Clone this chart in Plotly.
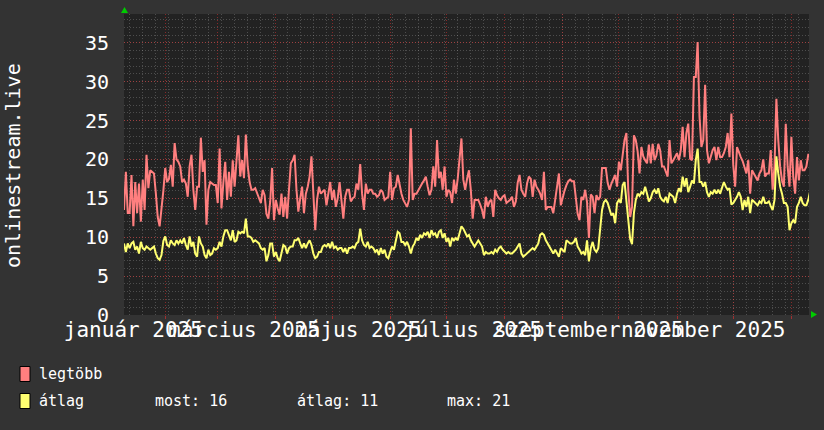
import plotly.graph_objects as go
from datetime import datetime, timedelta

# ---------------- data ----------------
START_DAY = "2025-01-10"          # first daily sample
END_VIEW = "2026-01-10 09:36"      # right edge of the time axis

legtobb = [
    13.5, 18.4, 13.1, 13.1, 18.0, 11.4, 17.1, 13.1, 16.9, 12.0,
    17.4, 13.5, 20.6, 16.3, 18.6, 18.4, 18.2, 15.6, 12.6, 11.4,
    13.5, 16.0, 18.9, 17.1, 17.5, 19.3, 16.5, 22.1, 20.0, 19.7,
    19.1, 17.1, 17.4, 16.9, 15.2, 19.1, 20.6, 16.1, 13.5, 16.5,
    16.5, 22.8, 18.4, 19.9, 11.6, 16.1, 17.1, 16.9, 16.7, 16.7,
    14.4, 21.4, 13.7, 17.0, 19.7, 14.8, 18.4, 15.2, 19.9, 16.5,
    19.4, 23.1, 17.8, 19.9, 17.6, 23.2, 19.1, 17.1, 16.1, 16.1,
    16.3, 15.6, 15.0, 14.4, 16.1, 15.4, 13.0, 12.4, 14.6, 18.9,
    12.2, 14.8, 13.7, 12.9, 15.6, 12.6, 15.2, 12.4, 16.1, 19.5,
    19.9, 20.6, 16.1, 13.3, 15.0, 16.5, 13.1, 15.6, 16.5, 17.8,
    20.4, 15.6, 10.9, 14.8, 16.5, 15.6, 15.8, 16.1, 14.1, 15.4,
    17.1, 14.8, 16.1, 13.9, 15.0, 17.1, 14.8, 12.4, 15.2, 16.1,
    16.1, 14.6, 15.0, 15.2, 16.9, 16.1, 19.4, 15.6, 13.5, 16.9,
    15.6, 16.1, 16.1, 15.6, 15.6, 15.2, 15.4, 16.1, 15.8, 14.8,
    15.0, 15.2, 18.4, 14.8, 16.3, 16.5, 18.0, 16.5, 15.6, 14.8,
    14.4, 13.9, 14.8, 24.0, 14.8, 15.6, 15.6, 16.1, 16.5, 16.9,
    17.3, 17.8, 16.5, 15.4, 16.1, 19.1, 16.5, 22.5, 17.6, 18.4,
    16.1, 19.1, 15.2, 16.1, 15.8, 14.4, 17.4, 15.6, 17.5, 19.9,
    22.7, 17.4, 16.1, 17.5, 18.6, 16.1, 12.4, 14.8, 14.8, 14.8,
    14.2, 13.5, 12.4, 15.2, 13.9, 14.6, 14.8, 12.6, 16.1, 15.4,
    15.0, 14.8, 15.2, 15.4, 14.4, 14.6, 14.8, 15.2, 13.9, 14.6,
    17.0, 18.0, 16.1, 15.6, 15.2, 16.9, 17.8, 17.5, 15.2, 17.4,
    16.5, 16.1, 15.6, 14.8, 18.4, 13.5, 13.9, 13.9, 13.9, 13.1,
    14.8, 16.9, 18.2, 14.1, 15.2, 16.0, 16.7, 17.2, 17.4, 17.2,
    17.2, 15.2, 13.0, 12.2, 15.2, 14.8, 16.1, 14.5, 9.9, 15.5,
    15.2, 13.1, 15.4, 14.8, 15.2, 18.9, 18.9, 18.9, 17.0, 16.1,
    16.9, 17.5, 18.0, 16.5, 19.7, 18.6, 21.0, 22.5, 23.4, 16.0,
    12.6, 13.9, 23.1, 22.5, 21.0, 18.2, 21.6, 20.4, 19.9, 19.5,
    21.9, 19.5, 22.0, 19.9, 20.5, 22.0, 21.2, 19.1, 19.1, 18.5,
    17.8, 22.5, 19.5, 19.9, 20.3, 20.8, 19.9, 21.2, 24.2, 20.3,
    23.4, 24.6, 20.1, 19.9, 30.6, 30.6, 35.1, 25.5, 21.6, 22.5,
    29.6, 21.2, 19.5, 20.3, 21.2, 21.6, 19.9, 21.6, 20.3, 20.3,
    20.8, 21.6, 23.4, 20.3, 25.9, 19.3, 16.5, 21.6, 20.8, 20.3,
    19.8, 19.1, 18.2, 19.9, 15.6, 18.6, 18.2, 17.8, 17.3, 18.2,
    18.6, 20.0, 17.8, 18.2, 18.2, 21.2, 16.1, 19.1, 27.8, 22.5,
    19.1, 17.3, 16.5, 24.6, 19.1, 16.5, 22.9, 17.8, 15.6, 20.3,
    17.3, 19.9, 18.6, 18.6, 19.1, 20.6, 20.6,
]

atlag = [
    9.2, 8.1, 9.2, 8.6, 9.2, 9.4, 8.4, 8.8, 7.9, 9.4,
    8.6, 8.4, 8.8, 8.6, 8.4, 8.6, 8.8, 7.9, 7.3, 7.1,
    7.7, 9.5, 10.1, 9.0, 8.8, 9.6, 9.2, 9.0, 9.6, 9.2,
    9.6, 9.2, 9.9, 9.0, 8.4, 10.1, 8.8, 9.4, 7.9, 7.5,
    10.1, 9.2, 8.8, 7.7, 7.3, 8.4, 7.7, 7.9, 8.6, 8.4,
    8.6, 9.4, 8.8, 10.1, 10.9, 10.9, 10.1, 9.6, 10.9, 9.4,
    9.6, 10.7, 10.5, 10.7, 10.5, 12.4, 10.1, 10.1, 9.9, 9.4,
    9.6, 9.4, 9.2, 8.6, 8.4, 8.6, 6.9, 7.7, 9.2, 9.2,
    7.5, 8.1, 7.3, 6.9, 7.9, 9.0, 8.8, 7.9, 8.6, 8.8,
    8.8, 9.6, 9.6, 9.9, 9.2, 8.6, 9.2, 8.6, 9.2, 9.6,
    9.0, 7.9, 7.3, 7.5, 8.1, 8.1, 8.8, 9.0, 8.8, 9.2,
    8.6, 9.4, 8.6, 8.8, 8.4, 8.6, 8.6, 8.1, 8.6, 7.9,
    8.6, 8.6, 8.8, 8.6, 9.2, 9.4, 11.1, 9.6, 9.0, 8.8,
    9.4, 8.6, 8.8, 8.6, 8.1, 8.4, 7.7, 8.6, 7.9, 8.4,
    7.5, 7.3, 8.1, 8.8, 8.4, 9.4, 10.7, 10.5, 9.4, 9.4,
    9.0, 9.4, 8.8, 7.9, 8.8, 9.2, 9.9, 9.6, 10.3, 9.9,
    10.5, 10.3, 10.7, 9.9, 10.9, 10.3, 10.5, 9.9, 10.7, 10.9,
    9.9, 10.5, 9.4, 9.9, 8.8, 9.9, 9.6, 9.9, 9.6, 10.5,
    11.4, 11.1, 10.5, 10.1, 10.3, 9.6, 9.2, 8.8, 9.2, 9.6,
    9.2, 8.8, 7.7, 8.1, 7.9, 7.9, 8.1, 7.9, 8.4, 8.1,
    8.6, 8.8, 8.4, 8.1, 7.9, 8.1, 7.9, 7.9, 8.1, 8.4,
    8.8, 9.2, 7.9, 7.5, 7.7, 7.9, 8.1, 8.4, 8.6, 8.4,
    8.8, 9.2, 10.3, 10.5, 10.3, 9.6, 9.2, 8.8, 8.4, 7.9,
    8.4, 7.9, 7.5, 8.6, 8.4, 8.1, 9.6, 9.4, 9.2, 9.2,
    9.4, 9.9, 8.8, 8.4, 7.9, 8.1, 7.7, 9.6, 6.9, 8.6,
    9.4, 8.4, 8.1, 8.6, 10.9, 13.5, 14.5, 14.8, 14.4, 13.6,
    12.8, 13.1, 11.8, 14.4, 14.8, 14.4, 16.7, 17.1, 14.8, 12.2,
    9.8, 9.1, 13.1, 14.8, 15.6, 15.3, 15.8, 15.6, 16.5, 15.6,
    14.6, 15.0, 15.8, 16.1, 15.6, 16.3, 15.2, 14.8, 14.6, 15.2,
    14.4, 15.6, 15.4, 15.2, 14.4, 15.6, 16.3, 15.8, 17.8, 16.5,
    17.6, 15.8, 16.5, 17.3, 16.9, 19.9, 21.4, 17.1, 17.1, 16.5,
    17.1, 15.8, 15.2, 15.8, 15.6, 16.1, 15.6, 16.1, 15.6, 16.5,
    17.1, 16.5, 16.1, 16.3, 14.2, 14.4, 14.8, 15.2, 15.8, 15.2,
    13.5, 14.8, 13.9, 15.2, 13.1, 14.8, 14.6, 14.4, 14.1, 14.6,
    14.4, 15.2, 14.4, 14.4, 14.6, 14.0, 13.5, 14.8, 20.4, 18.2,
    16.5, 15.6, 14.4, 14.4, 13.9, 10.9, 11.8, 12.2, 11.8, 13.9,
    14.4, 15.2, 14.4, 14.1, 14.1, 14.8, 15.9,
]

series_names = ["legtöbb", "átlag"]
series_colors = ["#ff7f7f", "#ffff70"]
y_title = "onlinestream.live"
y_ticks = [0, 5, 10, 15, 20, 25, 30, 35]
x_label_dates = ["2025-01-15", "2025-03-15", "2025-05-15",
                 "2025-07-15", "2025-09-15", "2025-11-15"]
x_label_texts = ["január 2025", "március 2025", "május 2025",
                 "július 2025", "szeptember 2025", "november 2025"]
month_starts = ["2025-02-01", "2025-03-01", "2025-04-01", "2025-05-01",
                "2025-06-01", "2025-07-01", "2025-08-01", "2025-09-01",
                "2025-10-01", "2025-11-01", "2025-12-01", "2026-01-01"]
stat_texts = ["most: 16", "átlag: 11", "max: 21"]

# ---------------- helpers ----------------
start = datetime.strptime(START_DAY, "%Y-%m-%d")
def day_dates(n):
    return [(start + timedelta(days=i)).strftime("%Y-%m-%d") for i in range(n)]

# weekly (Monday) minor grid positions
mondays = []
d = datetime(2025, 1, 13)
while d < datetime(2026, 1, 11):
    mondays.append(d.strftime("%Y-%m-%d"))
    d += timedelta(days=7)

W, H = 824, 430
ML, MR, MT, MB = 124, 15, 14, 115
PW, PH = W - ML - MR, H - MT - MB
def px(x):
    return (x - ML) / PW
def py(y):
    return (H - MB - y) / PH

FONT = "DejaVu Sans Mono"
GRID_MINOR = "rgba(190,190,190,0.28)"
GRID_MAJOR = "rgba(255,50,50,0.45)"

fig = go.Figure()
fig.add_trace(go.Scatter(x=day_dates(len(legtobb)), y=legtobb, mode="lines",
                         line=dict(color=series_colors[0], width=2),
                         name=series_names[0], showlegend=False))
fig.add_trace(go.Scatter(x=day_dates(len(atlag)), y=atlag, mode="lines",
                         line=dict(color=series_colors[1], width=2),
                         name=series_names[1], showlegend=False))
# carrier trace for the month-grid axis
fig.add_trace(go.Scatter(x=[month_starts[0]], y=[None], xaxis="x2",
                         mode="lines", showlegend=False, hoverinfo="skip"))

fig.update_layout(
    width=W, height=H,
    margin=dict(l=ML, r=MR, t=MT, b=MB, autoexpand=False),
    paper_bgcolor="#333333",
    plot_bgcolor="#222222",
    font=dict(family=FONT, color="#ffffff", size=20),
    showlegend=False,
    xaxis=dict(
        type="date", range=[START_DAY, END_VIEW], automargin=False,
        tickmode="array", tickvals=x_label_dates, ticktext=x_label_texts,
        tickangle=0,
        showgrid=False, zeroline=False, showline=False,
        ticks="", tickfont=dict(family=FONT, size=21, color="#ffffff"),
        minor=dict(tickmode="array", tickvals=mondays, showgrid=True,
                   gridcolor=GRID_MINOR, griddash="1px,2px", gridwidth=1,
                   ticks=""),
    ),
    xaxis2=dict(
        type="date", overlaying="x", matches="x", side="bottom",
        automargin=False,
        tickmode="array", tickvals=month_starts, showticklabels=False,
        showgrid=True, gridcolor=GRID_MAJOR, griddash="1px,2px", gridwidth=1,
        ticks="outside", ticklen=3, tickcolor="#a03030", zeroline=False,
    ),
    yaxis=dict(
        range=[0, 38.7], tickmode="array", tickvals=y_ticks, automargin=False,
        showgrid=True, gridcolor=GRID_MAJOR, griddash="1px,2px", gridwidth=1,
        zeroline=False, showline=False, ticks="",
        tickfont=dict(family=FONT, size=20, color="#ffffff"),
        ticklabelstandoff=14,
        minor=dict(dtick=1, showgrid=True, gridcolor=GRID_MINOR,
                   griddash="1px,2px", gridwidth=1),
    ),
)

# y axis title (RRD-style vertical label)
fig.add_annotation(x=px(13), y=py(165), xref="paper", yref="paper",
                   text=y_title, textangle=-90, showarrow=False,
                   font=dict(family=FONT, size=20, color="#ffffff"),
                   xanchor="center", yanchor="middle")

# green axis arrows
fig.add_shape(type="path", xref="paper", yref="paper",
              path=f"M {px(121)} {py(13)} L {px(128)} {py(13)} L {px(124.5)} {py(7)} Z",
              fillcolor="#00cc00", line=dict(width=0))
fig.add_shape(type="path", xref="paper", yref="paper",
              path=f"M {px(811)} {py(311)} L {px(811)} {py(318)} L {px(817)} {py(314.5)} Z",
              fillcolor="#00cc00", line=dict(width=0))

# legend boxes and texts
LEG_FONT = dict(family=FONT, size=15, color="#ffffff")
rows = [374, 401]
for name, color, yc in zip(series_names, series_colors, rows):
    fig.add_shape(type="rect", xref="paper", yref="paper",
                  x0=px(20), x1=px(30), y0=py(yc - 7.5), y1=py(yc + 7.5),
                  fillcolor=color, line=dict(color="#000000", width=1))
    fig.add_annotation(x=px(37), y=py(yc), xref="paper", yref="paper",
                       text=name, showarrow=False, xanchor="left",
                       yanchor="middle", font=LEG_FONT)
for txt, xl in zip(stat_texts, [153, 295, 445]):
    fig.add_annotation(x=px(xl), y=py(rows[1]), xref="paper", yref="paper",
                       text=txt, showarrow=False, xanchor="left",
                       yanchor="middle", font=LEG_FONT)

fig.write_html(
    "out.html",
    config={"displayModeBar": False},
    post_script="document.body.style.margin='0';"
                "document.body.style.background='#333333';",
)
